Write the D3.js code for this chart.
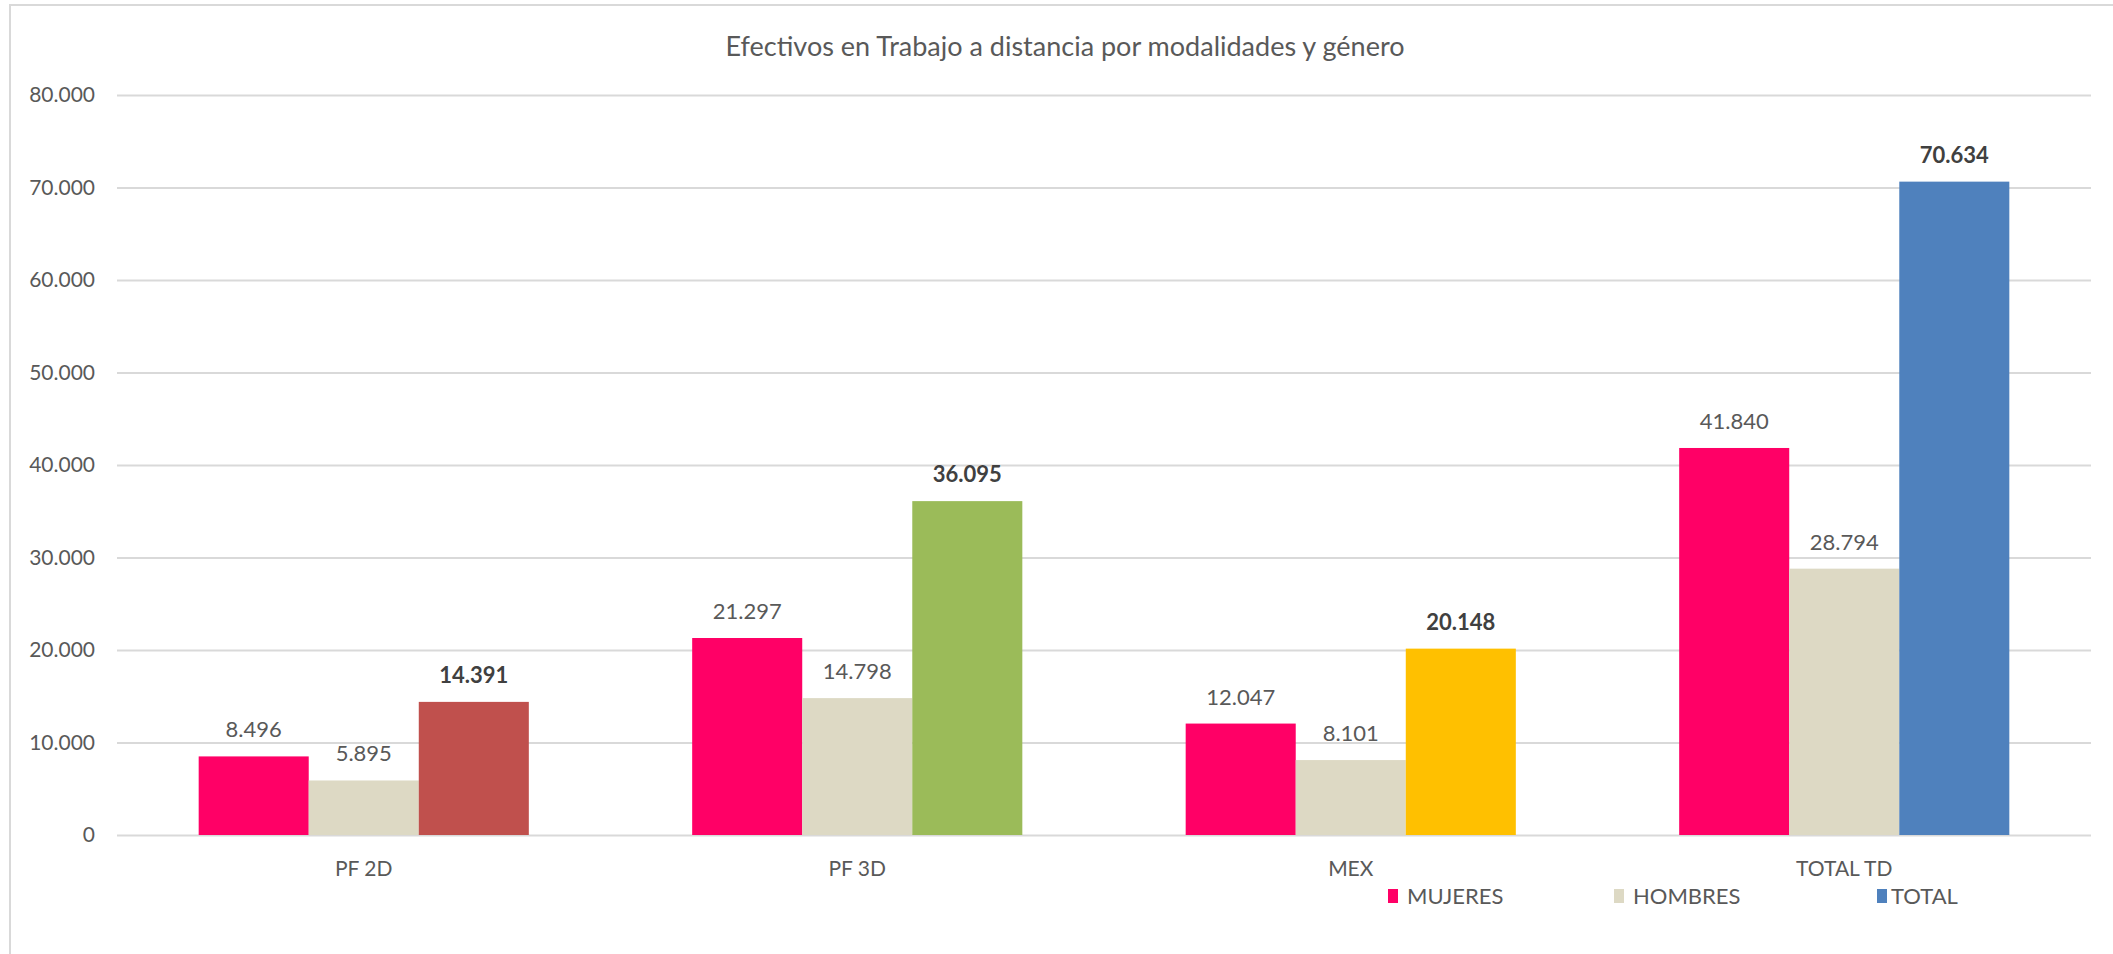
<!DOCTYPE html>
<html>
<head>
<meta charset="utf-8">
<script src="https://cdn.jsdelivr.net/npm/d3@7"></script>
<style>
  body { margin: 0; background: #fff; }
  svg { display: block; font-family: Lato, "Open Sans", sans-serif; }
</style>
</head>
<body>
<div id="chart"></div>
<script>
const categories = ['PF 2D', 'PF 3D', 'MEX', 'TOTAL TD']
const seriesNames = ['MUJERES', 'HOMBRES', 'TOTAL']
const mujeres = [8496, 21297, 12047, 41840]
const hombres = [5895, 14798, 8101, 28794]
const total = [14391, 36095, 20148, 70634]
const yTicks = [0, 10000, 20000, 30000, 40000, 50000, 60000, 70000, 80000]

// colour per category for the TOTAL bars (legend shows the last one)
const totalColors = ['#C0504D', '#9BBB59', '#FFC000', '#4F81BD']
const seriesColors = { MUJERES: '#FF0066', HOMBRES: '#DDD9C4', TOTAL: '#4F81BD' }

const width = 2113
const height = 954
const margin = { top: 95, right: 22, bottom: 119, left: 117 }

const locale = d3.formatLocale({ decimal: ',', thousands: '.', grouping: [3], currency: ['', ''] })
const fmt = locale.format(',d')

const svg = d3.select('#chart').append('svg')
    .attr('width', width)
    .attr('height', height)

// chart area border (only top/left visible in the reference)
svg.append('path')
    .attr('d', 'M10,954 V5 H2113')
    .attr('fill', 'none')
    .attr('stroke', '#d9d9d9')
    .attr('stroke-width', 2)

svg.append('text')
    .attr('x', 1065)
    .attr('y', 56)
    .attr('text-anchor', 'middle')
    .attr('font-size', 27)
    .attr('fill', '#595959')
    .text('Efectivos en Trabajo a distancia por modalidades y género')

const x0 = d3.scaleBand()
    .domain(categories)
    .range([margin.left, width - margin.right])
    .paddingInner(0.331)
    .paddingOuter(0.331 / 2)

const x1 = d3.scaleBand()
    .domain(seriesNames)
    .range([0, x0.bandwidth()])

const y = d3.scaleLinear()
    .domain([0, 80000])
    .range([height - margin.bottom, margin.top])

const yAxis = d3.axisLeft(y)
    .tickValues(yTicks)
    .tickFormat(fmt)
    .tickSize(-(width - margin.left - margin.right))
    .tickPadding(22)

svg.append('g')
    .attr('class', 'axis axis--y')
    .attr('transform', 'translate(' + margin.left + ',0)')
    .call(yAxis)
    .call(g => g.select('.domain').remove())
    .call(g => g.selectAll('.tick line').attr('stroke', '#d9d9d9').attr('stroke-width', 2))
    .call(g => g.selectAll('.tick text')
        .attr('font-size', 21)
        .attr('fill', '#595959')
        .attr('font-family', 'Lato, sans-serif'))

const xAxis = d3.axisBottom(x0).tickSize(0).tickPadding(26)

svg.append('g')
    .attr('class', 'axis axis--x')
    .attr('transform', 'translate(0,' + y(0) + ')')
    .call(xAxis)
    .call(g => g.select('.domain').remove())
    .call(g => g.selectAll('.tick text')
        .attr('font-size', 21)
        .attr('fill', '#595959')
        .attr('font-family', 'Lato, sans-serif'))

const rows = categories.map((c, i) => ({
    category: c,
    values: [
        { key: 'MUJERES', value: mujeres[i], color: seriesColors.MUJERES },
        { key: 'HOMBRES', value: hombres[i], color: seriesColors.HOMBRES },
        { key: 'TOTAL', value: total[i], color: totalColors[i] },
    ],
}))

const groups = svg.selectAll('.group')
    .data(rows)
    .enter().append('g')
        .attr('class', 'group')
        .attr('transform', d => 'translate(' + x0(d.category) + ',0)')

groups.selectAll('rect')
    .data(d => d.values)
    .enter().append('rect')
        .attr('x', d => x1(d.key))
        .attr('y', d => y(d.value))
        .attr('width', x1.bandwidth())
        .attr('height', d => y(0) - y(d.value))
        .attr('fill', d => d.color)

groups.selectAll('text.value')
    .data(d => d.values)
    .enter().append('text')
        .attr('class', 'value')
        .attr('x', d => x1(d.key) + x1.bandwidth() / 2)
        .attr('y', d => y(d.value) - 19)
        .attr('text-anchor', 'middle')
        .attr('font-size', 22)
        .attr('font-weight', d => d.key === 'TOTAL' ? 'bold' : 'normal')
        .attr('fill', d => d.key === 'TOTAL' ? '#404040' : '#595959')
        .text(d => fmt(d.value))

// legend
const legendX = [1388, 1614, 1877]
const legendGap = [19, 19, 14]
const legend = svg.selectAll('.legend')
    .data(seriesNames)
    .enter().append('g')
        .attr('class', 'legend')
        .attr('transform', (d, i) => 'translate(' + legendX[i] + ',896)')

legend.append('rect')
    .attr('x', 0)
    .attr('y', -7)
    .attr('width', 10)
    .attr('height', 14)
    .attr('fill', d => seriesColors[d])

legend.append('text')
    .attr('x', (d, i) => legendGap[i])
    .attr('y', 8)
    .attr('font-size', 22)
    .attr('fill', '#595959')
    .text(d => d)
</script>
</body>
</html>
